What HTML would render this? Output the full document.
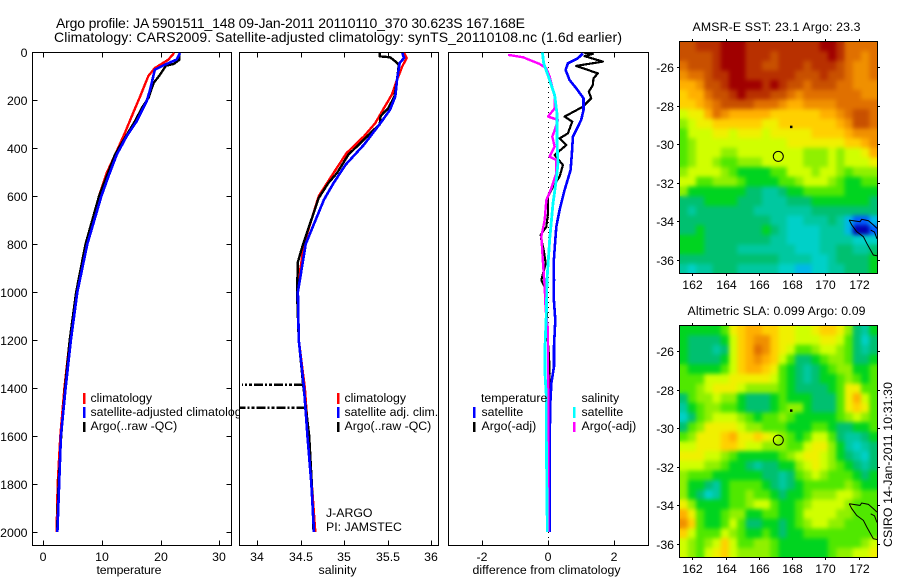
<!DOCTYPE html>
<html>
<head>
<meta charset="utf-8">
<title>Argo profile</title>
<style>
html,body{margin:0;padding:0;background:#fff;}
svg{display:block;font-family:"Liberation Sans",sans-serif;font-size:12.3px;fill:#000;}
</style>
</head>
<body>
<svg id="chart" width="900" height="580" viewBox="0 0 900 580" xmlns="http://www.w3.org/2000/svg">
<rect x="0" y="0" width="900" height="580" fill="#ffffff"/>
<defs>
<clipPath id="clip-t"><rect x="32.5" y="52.5" width="199" height="492"/></clipPath>
<clipPath id="clip-s"><rect x="240" y="52.5" width="199" height="492"/></clipPath>
<clipPath id="clip-d"><rect x="448.5" y="52.5" width="200" height="492"/></clipPath>
<clipPath id="clip-m1"><rect x="679.5" y="41.5" width="198" height="232"/></clipPath>
<clipPath id="clip-m2"><rect x="679.5" y="325.5" width="198" height="232"/></clipPath>
<clipPath id="clip-leg"><rect x="32" y="380" width="207.5" height="60"/></clipPath>
<filter id="map-soften" filterUnits="userSpaceOnUse" x="660" y="20" width="240" height="560" color-interpolation-filters="sRGB"><feGaussianBlur stdDeviation="2.2"/></filter>
</defs>
<text x="56" y="28" font-size="14" textLength="469" lengthAdjust="spacing">Argo profile: JA 5901511_148 09-Jan-2011 20110110_370 30.623S 167.168E</text>
<text x="54" y="42" font-size="14" textLength="568" lengthAdjust="spacing">Climatology: CARS2009. Satellite-adjusted climatology: synTS_20110108.nc (1.6d earlier)</text>
<text x="692.5" y="31" textLength="168" lengthAdjust="spacing">AMSR-E SST: 23.1 Argo: 23.3</text>
<text x="687.5" y="315" textLength="178" lengthAdjust="spacing">Altimetric SLA: 0.099 Argo: 0.09</text>
<text x="96.5" y="574" textLength="65" lengthAdjust="spacing">temperature</text>
<text x="318.5" y="574" textLength="38" lengthAdjust="spacing">salinity</text>
<text x="472.5" y="574" textLength="148" lengthAdjust="spacing">difference from climatology</text>
<text transform="translate(892,547) rotate(-90)" textLength="165" lengthAdjust="spacing">CSIRO 14-Jan-2011 10:31:30</text>
<g id="plots"></g>
<g id="overlay">
<g>
<rect x="83" y="393" width="2.5" height="11" fill="#ff0000"/>
<rect x="83" y="407" width="2.5" height="11" fill="#0000ff"/>
<rect x="83" y="422" width="2.5" height="10" fill="#000000"/>
<text x="90.5" y="402">climatology</text>
<g clip-path="url(#clip-leg)"><text x="90.5" y="416">satellite-adjusted climatology</text></g>
<text x="90.5" y="430">Argo(..raw -QC)</text>
</g>
<g>
<rect x="337" y="393" width="2.5" height="11" fill="#ff0000"/>
<rect x="337" y="407" width="2.5" height="11" fill="#0000ff"/>
<rect x="337" y="422" width="2.5" height="10" fill="#000000"/>
<text x="344.5" y="402">climatology</text>
<text x="344.5" y="416">satellite adj. clim.</text>
<text x="344.5" y="430">Argo(..raw -QC)</text>
</g>
<text x="326" y="517">J-ARGO</text>
<text x="326" y="531">PI: JAMSTEC</text>
<g>
<text x="481" y="402">temperature</text>
<text x="581.5" y="402">salinity</text>
<rect x="473" y="407" width="2.5" height="11" fill="#0000ff"/>
<rect x="473" y="422" width="2.5" height="10" fill="#000000"/>
<rect x="573" y="407" width="2.5" height="11" fill="#00ffff"/>
<rect x="573" y="422" width="2.5" height="10" fill="#ff00ff"/>
<text x="481.5" y="416">satellite</text>
<text x="481.5" y="430">Argo(-adj)</text>
<text x="581.5" y="416">satellite</text>
<text x="581.5" y="430">Argo(-adj)</text>
</g>
</g>
</svg>
<script>
// ---- Axis tick data ----
var depthTicks = [0, 200, 400, 600, 800, 1000, 1200, 1400, 1600, 1800, 2000];
var tempTicks = [0, 10, 20, 30];
var salTicks = [34, 34.5, 35, 35.5, 36];
var diffTicks = [-2, 0, 2];
var lonTicks = [162, 164, 166, 168, 170, 172];
var latTicks = [-26, -28, -30, -32, -34, -36];

// ---- Temperature profiles ----
var climTempDepth = [4, 32, 67, 100, 185, 254, 337, 414, 504, 600, 800, 1000, 1200, 1400, 1600, 1800, 2000];
var climTempValue = [22.3, 21.3, 19, 17.9, 16.5, 15.3, 13.9, 12.5, 10.8, 9.5, 7.3, 5.7, 4.5, 3.6, 2.9, 2.45, 2.27];
var satTempDepth = [4, 32, 53, 74, 157, 205, 289, 351, 428, 518, 600, 800, 1000, 1200, 1400, 1600, 1800, 2000];
var satTempValue = [23.3, 22.7, 20.7, 19, 18.2, 17.6, 15.9, 14.2, 12.5, 11.1, 9.9, 7.5, 5.8, 4.7, 3.8, 3.0, 2.7, 2.4];
var argoTempDepth = [4, 32, 50, 57, 94, 129, 192, 233, 289, 358, 428, 518, 600, 800, 1000, 1200, 1400, 1600, 1800, 2000];
var argoTempValue = [23.2, 23.2, 22.2, 20.9, 19.9, 18.8, 17.9, 16.8, 15.6, 13.9, 12.2, 10.8, 9.5, 7.2, 5.6, 4.5, 3.7, 3.05, 2.6, 2.35];

// ---- Salinity profiles ----
var climSalDepth = [4, 25, 60, 115, 178, 233, 296, 351, 421, 504, 600, 800, 1000, 1200, 1400, 1600, 1800, 2000];
var climSalValue = [35.69, 35.72, 35.67, 35.61, 35.55, 35.46, 35.36, 35.23, 35.03, 34.88, 34.71, 34.54, 34.46, 34.48, 34.55, 34.59, 34.63, 34.67];
var satSalDepth = [4, 25, 46, 115, 185, 240, 296, 386, 469, 546, 615, 800, 1000, 1200, 1400, 1600, 1800, 2000];
var satSalValue = [35.67, 35.69, 35.64, 35.61, 35.59, 35.53, 35.42, 35.23, 35.02, 34.88, 34.77, 34.56, 34.47, 34.48, 34.54, 34.58, 34.625, 34.655];
var argoSalDepth = [4, 18, 22, 39, 53, 115, 185, 233, 268, 303, 331, 365, 428, 504, 546, 608, 800, 875, 1000, 1200, 1385, 1600, 1800, 2000];
var argoSalValue = [35.41, 35.41, 35.53, 35.59, 35.63, 35.61, 35.58, 35.51, 35.42, 35.41, 35.32, 35.23, 35.05, 34.92, 34.82, 34.71, 34.53, 34.47, 34.46, 34.48, 34.53, 34.6, 34.63, 34.65];
var spikeSalDepth = [1387, 1483];
var spikeSalValue = [33.83, 33.8];
var spikeSalBase = [34.53, 34.56];

// ---- Difference profiles ----
var satTempDiffDepth = [6, 26, 47, 75, 117, 151, 193, 242, 283, 353, 422, 492, 575, 658, 728, 783, 880, 950, 1019, 1117, 1228, 1311, 1381, 1464, 1617, 2000];
var satTempDiffValue = [1.05, 0.9, 0.6, 0.53, 0.65, 0.85, 1.07, 1.07, 1.0, 0.75, 0.72, 0.68, 0.5, 0.35, 0.25, 0.22, 0.17, 0.18, 0.17, 0.22, 0.18, 0.18, 0.1, 0.07, 0.05, 0.05];
var argoTempDiffDepth = [2, 8, 17, 40, 58, 89, 110, 138, 165, 193, 228, 269, 290, 339, 360, 388, 429, 471, 519, 561, 603, 672, 728, 762, 783, 825, 880, 950, 992, 1158, 1269, 1339, 1464, 1617, 2000];
var argoTempDiffValue = [1.07, 1.35, 1.1, 1.65, 0.85, 1.5, 1.37, 1.35, 1.23, 1.3, 1.05, 0.5, 0.73, 0.6, 0.35, 0.55, 0.2, 0.45, 0.35, 0.15, 0, 0, -0.05, -0.22, -0.2, -0.13, -0.07, -0.2, -0.05, -0.03, 0.03, 0.05, 0.03, 0.03, 0.03];
var argoSalDiffDepth = [12, 22, 36, 50, 68, 103, 186, 235, 269, 283, 325, 353, 394, 436, 450, 506, 568, 617, 700, 769, 880, 978, 1075, 1158, 1297, 1575, 2000];
var argoSalDiffValue = [-1.2, -0.75, -0.5, -0.25, -0.05, 0.05, 0.2, 0.2, 0, 0.3, 0.2, 0.13, 0.2, 0.05, 0.25, 0.25, 0.1, -0.05, -0.1, -0.2, -0.15, -0.1, -0.07, 0, 0, 0.01, 0.01];
var satSalDiffDepth = [0, 47, 117, 179, 256, 367, 464, 533, 631, 783, 950, 1089, 1228, 1339, 1436, 1617, 2000];
var satSalDiffValue = [-0.17, -0.13, 0.05, 0.2, 0.27, 0.27, 0.3, 0.25, 0.15, 0.05, -0.03, -0.05, -0.09, -0.09, -0.05, -0.05, -0.02];

// ---- Map data (colour-scale levels: 0 deep blue ... 17 dark red) ----
var sstLevels = [
[15,15,16,16,16,17,17,17,16,16,16,16,16,16,16,16,16,17,17,16,14,14,14,14],
[15,15,15,15,16,17,17,17,16,16,16,15,16,16,16,16,16,16,17,16,14,14,13,14],
[14,15,15,15,16,17,17,17,16,16,15,15,16,16,16,15,16,16,16,15,14,13,13,14],
[13,14,14,15,16,16,17,17,16,16,16,16,16,16,15,15,15,16,15,15,14,13,13,14],
[12,12,13,15,15,16,17,17,17,17,16,17,16,15,15,14,15,15,15,14,14,13,13,13],
[11,12,12,14,15,15,16,17,16,16,16,15,15,14,13,14,14,14,14,14,14,14,13,13],
[11,11,12,13,14,15,15,15,15,14,14,14,13,12,12,13,13,13,13,14,14,14,14,14],
[9,10,10,12,14,13,12,12,12,12,12,11,11,11,11,11,11,12,12,13,14,15,15,14],
[8,9,10,10,11,11,11,11,11,11,10,10,11,11,11,11,11,11,11,12,13,15,15,14],
[7,9,9,9,10,10,9,10,10,10,9,10,10,10,10,10,11,11,11,11,12,13,13,13],
[7,8,9,9,9,9,9,9,9,9,9,9,9,10,10,10,10,10,10,10,11,11,12,13],
[7,8,9,9,9,8,8,9,9,9,9,9,9,9,9,8,8,8,9,8,9,9,10,12],
[7,8,9,9,8,7,7,8,8,8,9,9,9,9,9,8,8,8,9,8,9,9,9,10],
[8,9,9,9,9,8,7,6,6,6,6,7,7,9,9,9,8,9,9,8,7,8,8,8],
[9,9,7,7,8,8,8,7,6,6,6,6,7,7,8,9,9,9,8,7,6,6,7,7],
[8,6,6,6,6,6,6,6,5,5,4,4,5,6,6,7,7,7,7,7,6,6,6,6],
[5,5,5,6,6,6,6,5,5,5,4,4,4,5,5,5,6,6,6,6,6,6,6,5],
[5,4,5,5,5,5,5,5,5,4,4,4,4,4,4,4,5,5,5,5,5,5,5,5],
[5,5,5,5,5,5,5,5,5,5,5,4,4,3,3,4,4,4,5,4,2,1,1,2],
[5,5,6,5,5,5,5,5,5,5,6,5,4,3,3,3,3,4,4,4,2,0,0,1],
[6,6,6,5,5,5,5,5,5,5,5,4,4,3,3,3,3,4,4,4,4,3,3,3],
[6,6,6,5,5,5,5,4,4,4,4,4,4,4,3,3,3,4,4,5,5,4,4,5],
[5,5,5,5,5,5,5,5,5,5,5,5,4,4,4,4,3,3,4,5,5,5,5,6],
[4,3,4,4,5,5,5,4,4,4,4,4,3,3,2,2,3,3,4,4,5,5,5,6]
];
var slaLevels = [
[6,6,6,6,6,7,10,11,12,12,11,11,10,10,9,9,10,11,11,10,8,5,4,6],
[6,5,5,5,5,6,9,11,12,13,13,11,10,10,9,9,9,10,10,9,7,5,3,5],
[6,5,5,5,4,5,9,11,12,14,13,11,10,9,7,7,8,9,9,8,7,5,4,5],
[6,5,5,5,5,6,9,11,12,13,12,11,9,7,5,5,6,7,8,8,7,5,5,6],
[7,6,6,6,6,7,9,11,12,12,11,10,7,6,5,4,5,6,7,8,8,6,6,7],
[7,7,7,9,9,9,10,10,10,10,10,9,7,6,5,4,5,6,6,7,8,7,6,7],
[7,7,8,9,10,10,10,9,8,8,8,8,7,6,5,5,5,5,6,7,10,10,7,7],
[5,7,8,8,9,8,8,6,5,5,5,6,7,6,6,6,5,5,5,7,10,12,9,7],
[4,6,7,8,8,7,7,6,5,5,5,6,7,8,8,6,5,5,5,7,10,11,10,7],
[3,5,7,8,9,9,9,8,7,6,7,7,8,7,6,6,6,6,6,7,8,9,8,7],
[5,7,8,10,10,10,10,9,8,8,7,7,7,6,6,6,7,7,6,5,5,6,6,7],
[7,8,10,10,10,11,12,10,10,11,10,9,8,7,6,7,9,9,7,5,4,4,5,6],
[9,9,10,10,10,11,11,10,9,9,8,8,8,7,7,9,10,10,8,6,4,3,4,5],
[10,10,10,9,9,8,7,6,6,6,6,6,7,8,9,10,10,9,8,6,5,4,3,5],
[9,9,9,8,8,7,6,6,5,4,5,5,6,6,8,9,10,9,8,7,6,5,4,5],
[8,7,7,7,6,6,6,6,6,6,5,5,4,5,7,8,9,8,7,7,7,6,5,6],
[8,6,6,5,4,6,7,7,7,7,6,5,4,5,6,7,7,7,7,7,8,7,6,6],
[8,6,5,3,4,6,7,7,8,7,7,6,5,6,6,7,8,8,8,9,9,8,7,7],
[10,8,6,6,6,6,7,7,8,9,9,7,6,6,7,8,9,9,9,9,8,7,7,7],
[12,10,7,6,6,7,8,8,6,6,7,7,6,6,7,9,9,9,9,8,8,7,7,7],
[13,11,7,6,6,7,9,7,5,5,6,6,5,6,7,8,9,9,8,8,7,7,7,7],
[11,9,7,7,7,9,8,7,6,6,7,6,5,6,6,7,7,7,7,7,7,7,7,7],
[9,8,7,8,9,11,9,7,7,8,8,7,6,6,6,6,6,6,7,7,7,7,8,9],
[9,8,7,9,10,11,9,8,8,8,8,7,6,6,6,6,6,6,7,8,8,9,9,10]
];
var coastWestLon = [171.43, 171.58, 171.88, 172.28, 172.48, 172.88, 173.1];
var coastWestLat = [-33.93, -34.18, -34.53, -34.79, -35.13, -35.74, -35.78];
var coastNorthLon = [171.43, 172.08, 172.18, 172.58, 172.88, 173.1];
var coastNorthLat = [-33.93, -34.01, -33.89, -33.96, -34.18, -34.36];
var coastEastLon = [172.72, 172.95, 173.1];
var coastEastLat = [-34.45, -34.55, -34.9];
var profileLon = [167.168];
var profileLat = [-30.623];
var islandLon = [167.93];
var islandLat = [-29.08];

var NS = 'http://www.w3.org/2000/svg';
var plots = document.getElementById('plots');
var palette = ['#0000b0','#0060ff','#00b8e8','#00d0c8','#00c8a0','#00c070','#00d420','#50e800','#90f000','#d0ff00','#f0f000','#ffd000','#ffb000','#f09000','#e07000','#c85000','#b83000','#a00000'];

function levelColor(v) {
  var i = Math.max(0, Math.min(palette.length - 1, Math.round(v)));
  return palette[i];
}
function mk(tag, parent) {
  var el = document.createElementNS(NS, tag);
  parent.appendChild(el);
  return el;
}
function yDepth(d) { return 52 + 0.24 * d; }
function xTemp(v) { return 43.3 + 5.87 * v; }
function xSal(v) { return 257 + 87 * (v - 34); }
function xDiff(v) { return 548 + 33.2 * v; }

function drawFrame(name, x, y, w, h) {
  var r = mk('rect', plots);
  
  
  r.setAttribute('x', x);
  r.setAttribute('y', y);
  r.setAttribute('width', w);
  r.setAttribute('height', h);
  r.setAttribute('fill', 'none');
  r.setAttribute('stroke', '#000');
  r.setAttribute('stroke-width', '1');
  r.setAttribute('shape-rendering', 'crispEdges');
}
function drawTick(name, x1, y1, x2, y2) {
  var l = mk('line', plots);
  
  
  l.setAttribute('x1', x1);
  l.setAttribute('y1', y1);
  l.setAttribute('x2', x2);
  l.setAttribute('y2', y2);
  l.setAttribute('stroke', '#000');
  l.setAttribute('stroke-width', '1');
  l.setAttribute('shape-rendering', 'crispEdges');
}
function drawLabel(name, x, y, anchor, str) {
  var t = mk('text', plots);
  
  
  t.setAttribute('x', x);
  t.setAttribute('y', y);
  t.setAttribute('text-anchor', anchor);
  t.textContent = str;
}
function drawProfile(name, depths, values, xFn, color, clipId, width, dash) {
  var p = mk('polyline', plots);
  
  
  var pts = [];
  for (var i = 0; i < depths.length; i++) {
    pts.push(xFn(values[i]).toFixed(2) + ',' + yDepth(depths[i]).toFixed(2));
  }
  p.setAttribute('points', pts.join(' '));
  p.setAttribute('fill', 'none');
  p.setAttribute('stroke', color);
  p.setAttribute('stroke-width', width);
  p.setAttribute('stroke-linejoin', 'round');
  p.setAttribute('clip-path', 'url(#' + clipId + ')');
  p.setAttribute('shape-rendering', 'crispEdges');
  if (dash) { p.setAttribute('stroke-dasharray', dash); }
}

function drawProfilePanel(panel, left, w, ticks, xFn, labelOf, yTicks) {
  var top = 52.5, bottom = 545.5;
  drawFrame(panel + '-panel-frame', left, top, w, bottom - top);
  ticks.forEach(function (t) {
    var x = Math.round(xFn(t)) + 0.5;
    drawTick(panel + '-x-tick', x, top, x, top + 5);
    drawTick(panel + '-x-tick', x, bottom - 5, x, bottom);
    drawLabel(panel + '-x-tick-label', x - 0.5, 561, 'middle', labelOf(t));
  });
  if (yTicks) {
    depthTicks.forEach(function (d) {
      var y = Math.round(yDepth(d)) + 0.5;
      if (d > 0) {
        drawTick('depth-tick-left', left, y, left + 5, y);
        drawTick('depth-tick-right', left + w - 5, y, left + w, y);
      }
      drawLabel('depth-tick-label', 27.5, y + 4.5, 'end', String(d));
    });
  }
}

// Temperature panel
drawProfilePanel('temperature', 32.5, 199, tempTicks, xTemp, String, true);
drawProfile('temperature-climatology-line', climTempDepth, climTempValue, xTemp, '#ff0000', 'clip-t', 2.4);
drawProfile('temperature-argo-line', argoTempDepth, argoTempValue, xTemp, '#000000', 'clip-t', 2.4);
drawProfile('temperature-satellite-line', satTempDepth, satTempValue, xTemp, '#0000ff', 'clip-t', 2.6);

// Salinity panel
drawProfilePanel('salinity', 239.5, 199, salTicks, xSal, String, false);
drawProfile('salinity-climatology-line', climSalDepth, climSalValue, xSal, '#ff0000', 'clip-s', 2.4);
drawProfile('salinity-argo-line', argoSalDepth, argoSalValue, xSal, '#000000', 'clip-s', 2.4);
spikeSalDepth.forEach(function (d, i) {
  drawProfile('salinity-argo-spike', [d, d], [spikeSalBase[i], spikeSalValue[i]], xSal, '#000000', 'clip-s', 2.5, '9 2 3 2 2 2');
});
drawProfile('salinity-satellite-line', satSalDepth, satSalValue, xSal, '#0000ff', 'clip-s', 2.6);

// Difference panel
drawProfilePanel('difference', 448.5, 200, diffTicks, xDiff, String, false);
var zeroLine = mk('line', plots);


zeroLine.setAttribute('x1', xDiff(0) + 0.5);
zeroLine.setAttribute('x2', xDiff(0) + 0.5);
zeroLine.setAttribute('y1', yDepth(0));
zeroLine.setAttribute('y2', 545);
zeroLine.setAttribute('stroke', '#000');
zeroLine.setAttribute('stroke-dasharray', '1 4');
zeroLine.setAttribute('shape-rendering', 'crispEdges');
drawProfile('temperature-difference-argo-line', argoTempDiffDepth, argoTempDiffValue, xDiff, '#000000', 'clip-d', 2.2);
drawProfile('temperature-difference-satellite-line', satTempDiffDepth, satTempDiffValue, xDiff, '#0000ff', 'clip-d', 2.6);
drawProfile('salinity-difference-argo-line', argoSalDiffDepth, argoSalDiffValue, xDiff, '#ff00ff', 'clip-d', 2.4);
drawProfile('salinity-difference-satellite-line', satSalDiffDepth, satSalDiffValue, xDiff, '#00ffff', 'clip-d', 2.8);

// Map panels
function drawCells(parent, levels, left, top, cw, ch) {
  for (var r = 0; r < levels.length; r++) {
    for (var c = 0; c < levels[r].length; c++) {
      var cell = mk('rect', parent);
      
      
      cell.setAttribute('x', left + c * cw);
      cell.setAttribute('y', top + r * ch);
      cell.setAttribute('width', cw + 0.6);
      cell.setAttribute('height', ch + 0.6);
      cell.setAttribute('fill', levelColor(levels[r][c]));
    }
  }
}
function drawMap(name, levels, top, bottom, lat26y, clipId) {
  var left = 679.5, right = 877.5;
  var xLon = function (v) { return 692.3 + 16.64 * (v - 162); };
  var yLat = function (v) { return lat26y + 19.27 * (-26 - v); };
  var g = mk('g', plots);
  
  
  g.setAttribute('clip-path', 'url(#' + clipId + ')');
  var cw = (right - left) / levels[0].length;
  var ch = (bottom - top) / levels.length;
  var base = mk('g', g);
  
  
  drawCells(base, levels, left, top, cw, ch);
  var soft = mk('g', g);
  
  
  soft.setAttribute('filter', 'url(#map-soften)');
  drawCells(soft, levels, left, top, cw, ch);
  [[coastWestLon, coastWestLat], [coastNorthLon, coastNorthLat], [coastEastLon, coastEastLat]].forEach(function (c) {
    var line = mk('polyline', plots);
    
    
    line.setAttribute('points', c[0].map(function (lon, i) {
      return xLon(lon).toFixed(1) + ',' + yLat(c[1][i]).toFixed(1);
    }).join(' '));
    line.setAttribute('fill', 'none');
    line.setAttribute('stroke', '#000');
    line.setAttribute('stroke-width', '1');
    line.setAttribute('clip-path', 'url(#' + clipId + ')');
  });
  var isle = mk('rect', plots);
  
  
  isle.setAttribute('x', xLon(islandLon[0]) - 1);
  isle.setAttribute('y', yLat(islandLat[0]) - 1);
  isle.setAttribute('width', 2.5);
  isle.setAttribute('height', 2.5);
  isle.setAttribute('fill', '#000');
  var circle = mk('circle', plots);
  
  
  circle.setAttribute('cx', xLon(profileLon[0]));
  circle.setAttribute('cy', yLat(profileLat[0]));
  circle.setAttribute('r', 5);
  circle.setAttribute('fill', 'none');
  circle.setAttribute('stroke', '#000');
  circle.setAttribute('stroke-width', '1');
  drawFrame(name + '-frame', left, top, right - left, bottom - top);
  lonTicks.forEach(function (t) {
    var x = Math.round(xLon(t)) + 0.5;
    drawTick(name + '-lon-tick', x, top - 2.5, x, top);
    drawTick(name + '-lon-tick', x, bottom, x, bottom + 2.5);
    drawLabel(name + '-lon-label', x, bottom + 15.5, 'middle', String(t));
  });
  latTicks.forEach(function (t) {
    var y = Math.round(yLat(t)) + 0.5;
    drawTick(name + '-lat-tick', left - 2.5, y, left, y);
    drawTick(name + '-lat-tick', right, y, right + 2.5, y);
    drawLabel(name + '-lat-label', 674, y + 4.5, 'end', String(t));
  });
}
drawMap('sst-map', sstLevels, 41.5, 273.5, 67.3, 'clip-m1');
drawMap('sla-map', slaLevels, 325.5, 557.5, 351, 'clip-m2');

// Keep legends above the plotted series
document.getElementById('chart').appendChild(document.getElementById('overlay'));
</script>
</body>
</html>
